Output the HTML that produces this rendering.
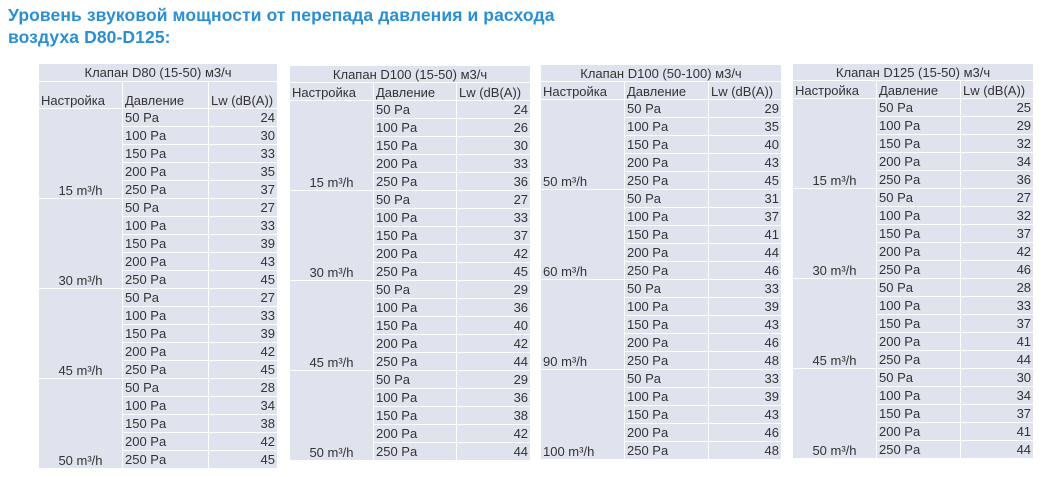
<!DOCTYPE html>
<html><head><meta charset="utf-8"><style>
body{margin:0;width:1045px;height:477px;background:#fff;position:relative;overflow:hidden;font-family:"Liberation Sans",sans-serif}
h1{position:absolute;left:8px;top:4px;margin:0;font-size:17.5px;line-height:22px;color:#2b8fd3;font-weight:bold;letter-spacing:0.1px}
table{position:absolute;border-collapse:collapse;table-layout:fixed;font-size:13px;color:#333;background:#dfe3ee}
td{border:1.5px solid #fff;padding:0 2px;height:17px;line-height:15px;white-space:nowrap;overflow:hidden}
td.t{text-align:center}
td.n{text-align:right}
td.g{text-align:center;vertical-align:bottom}
.l td.g{text-align:left}
tr.h td{vertical-align:bottom}
</style></head><body>
<h1>Уровень звуковой мощности от перепада давления и расхода<br>воздуха D80-D125:</h1>

<table style="left:38px;top:63px;width:239px">
<colgroup><col style="width:84px"><col style="width:86px"><col style="width:69px"></colgroup>
<tr><td colspan="3" class="t" style="height:17px">Клапан D80 (15-50) м3/ч</td></tr>
<tr class="h"><td style="height:26px">Настройка</td><td>Давление</td><td>Lw (dB(A))</td></tr>
<tr><td rowspan="5" class="g">15 m³/h</td><td>50 Pa</td><td class="n">24</td></tr>
<tr><td>100 Pa</td><td class="n">30</td></tr><tr><td>150 Pa</td><td class="n">33</td></tr><tr><td>200 Pa</td><td class="n">35</td></tr><tr><td>250 Pa</td><td class="n">37</td></tr>
<tr><td rowspan="5" class="g">30 m³/h</td><td>50 Pa</td><td class="n">27</td></tr>
<tr><td>100 Pa</td><td class="n">33</td></tr><tr><td>150 Pa</td><td class="n">39</td></tr><tr><td>200 Pa</td><td class="n">43</td></tr><tr><td>250 Pa</td><td class="n">45</td></tr>
<tr><td rowspan="5" class="g">45 m³/h</td><td>50 Pa</td><td class="n">27</td></tr>
<tr><td>100 Pa</td><td class="n">33</td></tr><tr><td>150 Pa</td><td class="n">39</td></tr><tr><td>200 Pa</td><td class="n">42</td></tr><tr><td>250 Pa</td><td class="n">45</td></tr>
<tr><td rowspan="5" class="g">50 m³/h</td><td>50 Pa</td><td class="n">28</td></tr>
<tr><td>100 Pa</td><td class="n">34</td></tr><tr><td>150 Pa</td><td class="n">38</td></tr><tr><td>200 Pa</td><td class="n">42</td></tr><tr><td>250 Pa</td><td class="n">45</td></tr>
</table>

<table style="left:289px;top:65px;width:241px">
<colgroup><col style="width:84px"><col style="width:83px"><col style="width:74px"></colgroup>
<tr><td colspan="3" class="t" style="height:16px">Клапан D100 (15-50) м3/ч</td></tr>
<tr class="h"><td style="height:15px">Настройка</td><td>Давление</td><td>Lw (dB(A))</td></tr>
<tr><td rowspan="5" class="g">15 m³/h</td><td>50 Pa</td><td class="n">24</td></tr>
<tr><td>100 Pa</td><td class="n">26</td></tr><tr><td>150 Pa</td><td class="n">30</td></tr><tr><td>200 Pa</td><td class="n">33</td></tr><tr><td>250 Pa</td><td class="n">36</td></tr>
<tr><td rowspan="5" class="g">30 m³/h</td><td>50 Pa</td><td class="n">27</td></tr>
<tr><td>100 Pa</td><td class="n">33</td></tr><tr><td>150 Pa</td><td class="n">37</td></tr><tr><td>200 Pa</td><td class="n">42</td></tr><tr><td>250 Pa</td><td class="n">45</td></tr>
<tr><td rowspan="5" class="g">45 m³/h</td><td>50 Pa</td><td class="n">29</td></tr>
<tr><td>100 Pa</td><td class="n">36</td></tr><tr><td>150 Pa</td><td class="n">40</td></tr><tr><td>200 Pa</td><td class="n">42</td></tr><tr><td>250 Pa</td><td class="n">44</td></tr>
<tr><td rowspan="5" class="g">50 m³/h</td><td>50 Pa</td><td class="n">29</td></tr>
<tr><td>100 Pa</td><td class="n">36</td></tr><tr><td>150 Pa</td><td class="n">38</td></tr><tr><td>200 Pa</td><td class="n">42</td></tr><tr><td>250 Pa</td><td class="n">44</td></tr>
</table>

<table class="l" style="left:540px;top:64px;width:241px">
<colgroup><col style="width:84px"><col style="width:84px"><col style="width:73px"></colgroup>
<tr><td colspan="3" class="t" style="height:16px">Клапан D100 (50-100) м3/ч</td></tr>
<tr class="h"><td style="height:16px">Настройка</td><td>Давление</td><td>Lw (dB(A))</td></tr>
<tr><td rowspan="5" class="g">50 m³/h</td><td>50 Pa</td><td class="n">29</td></tr>
<tr><td>100 Pa</td><td class="n">35</td></tr><tr><td>150 Pa</td><td class="n">40</td></tr><tr><td>200 Pa</td><td class="n">43</td></tr><tr><td>250 Pa</td><td class="n">45</td></tr>
<tr><td rowspan="5" class="g">60 m³/h</td><td>50 Pa</td><td class="n">31</td></tr>
<tr><td>100 Pa</td><td class="n">37</td></tr><tr><td>150 Pa</td><td class="n">41</td></tr><tr><td>200 Pa</td><td class="n">44</td></tr><tr><td>250 Pa</td><td class="n">46</td></tr>
<tr><td rowspan="5" class="g">90 m³/h</td><td>50 Pa</td><td class="n">33</td></tr>
<tr><td>100 Pa</td><td class="n">39</td></tr><tr><td>150 Pa</td><td class="n">43</td></tr><tr><td>200 Pa</td><td class="n">46</td></tr><tr><td>250 Pa</td><td class="n">48</td></tr>
<tr><td rowspan="5" class="g">100 m³/h</td><td>50 Pa</td><td class="n">33</td></tr>
<tr><td>100 Pa</td><td class="n">39</td></tr><tr><td>150 Pa</td><td class="n">43</td></tr><tr><td>200 Pa</td><td class="n">46</td></tr><tr><td>250 Pa</td><td class="n">48</td></tr>
</table>

<table style="left:792px;top:63px;width:241px">
<colgroup><col style="width:84px"><col style="width:84px"><col style="width:73px"></colgroup>
<tr><td colspan="3" class="t" style="height:16px">Клапан D125 (15-50) м3/ч</td></tr>
<tr class="h"><td style="height:16px">Настройка</td><td>Давление</td><td>Lw (dB(A))</td></tr>
<tr><td rowspan="5" class="g">15 m³/h</td><td>50 Pa</td><td class="n">25</td></tr>
<tr><td>100 Pa</td><td class="n">29</td></tr><tr><td>150 Pa</td><td class="n">32</td></tr><tr><td>200 Pa</td><td class="n">34</td></tr><tr><td>250 Pa</td><td class="n">36</td></tr>
<tr><td rowspan="5" class="g">30 m³/h</td><td>50 Pa</td><td class="n">27</td></tr>
<tr><td>100 Pa</td><td class="n">32</td></tr><tr><td>150 Pa</td><td class="n">37</td></tr><tr><td>200 Pa</td><td class="n">42</td></tr><tr><td>250 Pa</td><td class="n">46</td></tr>
<tr><td rowspan="5" class="g">45 m³/h</td><td>50 Pa</td><td class="n">28</td></tr>
<tr><td>100 Pa</td><td class="n">33</td></tr><tr><td>150 Pa</td><td class="n">37</td></tr><tr><td>200 Pa</td><td class="n">41</td></tr><tr><td>250 Pa</td><td class="n">44</td></tr>
<tr><td rowspan="5" class="g">50 m³/h</td><td>50 Pa</td><td class="n">30</td></tr>
<tr><td>100 Pa</td><td class="n">34</td></tr><tr><td>150 Pa</td><td class="n">37</td></tr><tr><td>200 Pa</td><td class="n">41</td></tr><tr><td>250 Pa</td><td class="n">44</td></tr>
</table>
</body></html>
